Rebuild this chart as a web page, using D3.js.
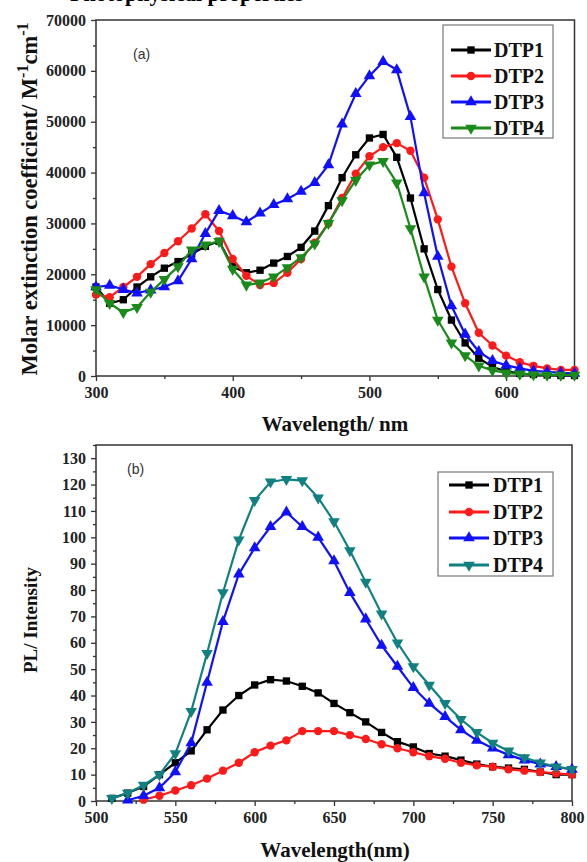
<!DOCTYPE html>
<html>
<head>
<meta charset="utf-8">
<script src="https://cdn.jsdelivr.net/npm/d3@7"></script>
<style>
  body { margin: 0; background: #fff; }
  svg { display: block; }
</style>
</head>
<body>
<svg id="chart" width="587" height="862"></svg>
<script>
// Panel (a): absorption spectra
const absWavelength = [300, 310, 320, 330, 340, 350, 360, 370, 380, 390, 400, 410, 420, 430, 440, 450, 460, 470,
    480, 490, 500, 510, 520, 530, 540, 550, 560, 570, 580, 590, 600, 610, 620, 630, 640, 650];
const absDTP1 = [17500, 14300, 15000, 17500, 19500, 21200, 22500, 24000, 25500, 26500, 21500, 20300, 20800, 22200,
    23500, 25300, 28500, 33500, 39000, 43500, 46800, 47500, 43000, 35000, 25000, 17000, 11000, 6500, 3500, 1800,
    900, 500, 300, 200, 100, 100];
const absDTP2 = [16000, 15500, 17500, 19500, 22000, 24200, 26500, 29000, 31800, 28500, 23000, 19700, 17900, 18300,
    20300, 23000, 26200, 30000, 35000, 39800, 43200, 45000, 45800, 44300, 39000, 30800, 21500, 14300, 8500, 6000,
    4000, 2700, 2000, 1500, 1200, 1200];
const absDTP3 = [17500, 17800, 17000, 16300, 16900, 17500, 18700, 23000, 28000, 32500, 31500, 30300, 32000, 33700,
    34800, 36300, 38000, 41500, 49500, 55500, 59000, 61800, 60200, 51000, 36000, 23500, 13800, 8200, 4800, 3000,
    2100, 1500, 1000, 800, 600, 500];
const absDTP4 = [17000, 14300, 12500, 13500, 16500, 19000, 21500, 24800, 25800, 26500, 21000, 17900, 18300, 19500,
    21300, 23300, 26000, 30000, 34500, 38500, 41500, 42200, 38000, 29000, 19500, 11000, 6500, 4000, 2000, 1100,
    600, 400, 300, 200, 200, 200];

// Panel (b): PL spectra
const plWavelength = [510, 520, 530, 540, 550, 560, 570, 580, 590, 600, 610, 620, 630, 640, 650, 660, 670, 680,
    690, 700, 710, 720, 730, 740, 750, 760, 770, 780, 790, 800];
const plDTP1 = [1, 3, 5.5, 10, 14.5, 19, 27, 34.5, 40, 44, 46, 45.5, 43.5, 41, 37, 33.5, 30, 26, 22.5, 20.5, 18, 17,
    15.5, 14, 13, 12.5, 12, 11, 10, 10];
const plDTP2 = [null, null, 0.5, 2, 4, 6, 8.5, 11.5, 14.5, 18.5, 21, 23, 26.5, 26.5, 26.5, 25, 23.5, 21.5, 20,
    18.5, 17, 16, 14.5, 13.5, 13, 12, 11.5, 11, 10.5, 10];
const plDTP3 = [null, 0.3, 2, 5, 11, 22, 45, 68, 86, 96, 104, 109.5, 104, 100, 91, 79, 69, 59, 51, 43, 37, 32, 27,
    23, 20, 17.5, 15.5, 14, 13, 12];
const plDTP4 = [1, 3, 6, 10, 18, 34, 56, 79, 99, 114, 121, 122, 121.5, 115, 106, 95, 83, 71, 60, 51, 44, 37, 31,
    26, 22, 19, 16.5, 14.5, 13, 12];

const seriesNames = ["DTP1", "DTP2", "DTP3", "DTP4"];
const absTicksY = [0, 10000, 20000, 30000, 40000, 50000, 60000, 70000];
const absTicksX = [300, 400, 500, 600];
const plTicksY = [0, 10, 20, 30, 40, 50, 60, 70, 80, 90, 100, 110, 120, 130];
const plTicksX = [500, 550, 600, 650, 700, 750, 800];

const serif = "'Liberation Serif', 'Times New Roman', serif";
const svg = d3.select("#chart");

// text of the paper line above the figure, mostly cut off
svg.append("text")
    .attr("x", 70)
    .attr("y", 1)
    .style("font-family", serif)
    .style("font-weight", "bold")
    .style("font-size", "22px")
    .text("Photophysical properties");

const symbols = [
    { type: d3.symbolSquare, size: 54, rotate: 0 },
    { type: d3.symbolCircle, size: 55, rotate: 0 },
    { type: d3.symbolTriangle, size: 58, rotate: 0 },
    { type: d3.symbolTriangle, size: 58, rotate: 180 }
];

function drawPanel(p) {
    const x = d3.scaleLinear().domain(p.xDomain).range([p.left, p.right]);
    const y = d3.scaleLinear().domain(p.yDomain).range([p.bottom, p.top]);
    const g = svg.append("g");

    // minor + major ticks
    g.append("g")
        .attr("transform", `translate(0,${p.bottom})`)
        .call(d3.axisBottom(x).tickValues(p.xMinor).tickSize(3).tickFormat(""))
        .call(a => a.select(".domain").remove());
    g.append("g")
        .attr("transform", `translate(${p.left},0)`)
        .call(d3.axisLeft(y).tickValues(p.yMinor).tickSize(3).tickFormat(""))
        .call(a => a.select(".domain").remove());

    const axX = g.append("g")
        .attr("transform", `translate(0,${p.bottom})`)
        .call(d3.axisBottom(x).tickValues(p.xTicks).tickSize(5).tickPadding(6).tickFormat(d3.format("d")));
    const axY = g.append("g")
        .attr("transform", `translate(${p.left},0)`)
        .call(d3.axisLeft(y).tickValues(p.yTicks).tickSize(5).tickPadding(5).tickFormat(d3.format("d")));

    [axX, axY].forEach(a => {
        a.select(".domain").remove();
        a.selectAll("text")
            .style("font-family", serif)
            .style("font-weight", "bold")
            .style("font-size", "16px")
            .attr("fill", "#222");
    });
    g.selectAll(".tick line").attr("stroke", "#333").attr("stroke-width", 1.3);

    g.append("rect")
        .attr("x", p.left)
        .attr("y", p.top)
        .attr("width", p.right - p.left)
        .attr("height", p.bottom - p.top)
        .attr("fill", "none")
        .attr("stroke", "#333")
        .attr("stroke-width", 1.5);

    const line = d3.line()
        .defined(d => d.v !== null)
        .x(d => x(d.w))
        .y(d => y(d.v));

    p.series.forEach((s, i) => {
        const pts = p.xs.map((w, j) => ({ w: w, v: s[j] }));
        g.append("path")
            .datum(pts)
            .attr("fill", "none")
            .attr("stroke", p.colors[i])
            .attr("stroke-width", 2.2)
            .attr("d", line);

        const sym = symbols[i];
        g.selectAll(null)
            .data(pts.filter(d => d.v !== null))
            .enter()
            .append("path")
            .attr("d", d3.symbol().type(sym.type).size(sym.size))
            .attr("transform", d => `translate(${x(d.w)},${y(d.v)}) rotate(${sym.rotate})`)
            .attr("fill", p.colors[i]);
    });

    // legend
    const lg = p.legend;
    g.append("rect")
        .attr("x", lg.x0)
        .attr("y", lg.y0)
        .attr("width", lg.x1 - lg.x0)
        .attr("height", lg.y1 - lg.y0)
        .attr("fill", "#fff")
        .attr("stroke", "#777")
        .attr("stroke-width", 1.2);
    seriesNames.forEach((name, i) => {
        const ly = lg.rows[i];
        g.append("line")
            .attr("x1", lg.lineX0).attr("x2", lg.lineX1)
            .attr("y1", ly).attr("y2", ly)
            .attr("stroke", p.colors[i])
            .attr("stroke-width", 2.8);
        g.append("path")
            .attr("d", d3.symbol().type(symbols[i].type).size(symbols[i].size))
            .attr("transform", `translate(${(lg.lineX0 + lg.lineX1) / 2},${ly}) rotate(${symbols[i].rotate})`)
            .attr("fill", p.colors[i]);
        g.append("text")
            .attr("x", lg.textX)
            .attr("y", ly + 7)
            .style("font-family", serif)
            .style("font-weight", "bold")
            .style("font-size", "20px")
            .attr("fill", "#111")
            .text(name);
    });

    g.append("text")
        .attr("x", p.tag.x)
        .attr("y", p.tag.y)
        .style("font-family", "'Liberation Sans', Arial, sans-serif")
        .style("font-size", "14px")
        .attr("fill", "#333")
        .text(p.tag.text);

    return g;
}

drawPanel({
    xDomain: [300, 650], yDomain: [0, 70000],
    left: 96, right: 574.5, top: 20, bottom: 376,
    xTicks: absTicksX, yTicks: absTicksY,
    xMinor: [350, 450, 550, 650], yMinor: [5000, 15000, 25000, 35000, 45000, 55000, 65000],
    xs: absWavelength,
    series: [absDTP1, absDTP2, absDTP3, absDTP4],
    colors: ["#000000", "#ff1a1a", "#1010ff", "#1a8a1a"],
    legend: { x0: 443, x1: 553, y0: 25, y1: 138, rows: [50, 76, 102, 128], lineX0: 451, lineX1: 491, textX: 494 },
    tag: { x: 133, y: 59, text: "(a)" }
});

drawPanel({
    xDomain: [500, 800], yDomain: [0, 135],
    left: 96, right: 572, top: 445, bottom: 801,
    xTicks: plTicksX, yTicks: plTicksY,
    xMinor: [525, 575, 625, 675, 725, 775], yMinor: [5, 15, 25, 35, 45, 55, 65, 75, 85, 95, 105, 115, 125, 135],
    xs: plWavelength,
    series: [plDTP1, plDTP2, plDTP3, plDTP4],
    colors: ["#000000", "#ff1a1a", "#1010ff", "#108080"],
    legend: { x0: 438, x1: 553, y0: 472, y1: 576, rows: [485, 512, 538, 565], lineX0: 449, lineX1: 489, textX: 493 },
    tag: { x: 127, y: 474, text: "(b)" }
});

// axis titles
const titleA = svg.append("text")
    .attr("transform", "translate(37,199) rotate(-90)")
    .attr("text-anchor", "middle")
    .style("font-family", serif)
    .style("font-weight", "bold")
    .style("font-size", "22.5px")
    .attr("fill", "#111");
titleA.append("tspan").text("Molar extinction coefficient/ M");
titleA.append("tspan").attr("dy", -9).style("font-size", "16px").text("-1");
titleA.append("tspan").attr("dy", 9).text("cm");
titleA.append("tspan").attr("dy", -9).style("font-size", "16px").text("-1");

svg.append("text")
    .attr("x", 335)
    .attr("y", 431)
    .attr("text-anchor", "middle")
    .style("font-family", serif)
    .style("font-weight", "bold")
    .style("font-size", "21px")
    .attr("fill", "#111")
    .text("Wavelength/ nm");

svg.append("text")
    .attr("transform", "translate(37,620) rotate(-90)")
    .attr("text-anchor", "middle")
    .style("font-family", serif)
    .style("font-weight", "bold")
    .style("font-size", "19px")
    .attr("fill", "#111")
    .text("PL/ Intensity");

svg.append("text")
    .attr("x", 335)
    .attr("y", 857)
    .attr("text-anchor", "middle")
    .style("font-family", serif)
    .style("font-weight", "bold")
    .style("font-size", "21px")
    .attr("fill", "#111")
    .text("Wavelength(nm)");
</script>
</body>
</html>
